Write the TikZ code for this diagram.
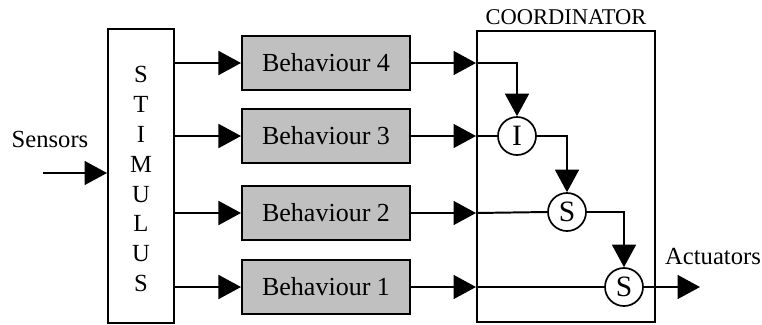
\documentclass[tikz,border=0pt]{standalone}
\usepackage{fontspec}
\setmainfont{Liberation Serif}
\usepackage{tikz}
\usetikzlibrary{arrows.meta, positioning, calc}
\definecolor{behgray}{RGB}{192, 192, 192}

\tikzset{
    flow/.style={line width=1.4pt, -{Triangle[length=16pt, width=17pt]}},
    wire/.style={line width=1.4pt},
    behbox/.style={draw, line width=1.4pt, fill=behgray, minimum width=4.2cm, minimum height=1.35cm, font=\fontsize{18.5}{22}\selectfont},
    arbiter/.style={draw, circle, line width=1.2pt, fill=white, minimum size=0.95cm, inner sep=0pt, font=\fontsize{21}{24}\selectfont},
    lbl/.style={font=\fontsize{17.5}{21}\selectfont}
}

\begin{document}
\begin{tikzpicture}[x=0.025cm, y=-0.025cm]
        \useasboundingbox (0,0) rectangle (762,324);
        % stimulus block
        \node[draw, line width=1.4pt, minimum width=1.65cm, minimum height=7.35cm] (stim) at (141,176) {};
        \node[align=center, font=\fontsize{17.5}{21.3}\selectfont] (stimtext) at (141,179) {S\\T\\I\\M\\U\\L\\U\\S};
        \coordinate (sin) at (43,173);
        \node[lbl] (sensors) at (50,139) {Sensors};
        \draw[flow] (sin) -- (stim.west |- sin);
        % coordinator block
        \node[draw, line width=1.4pt, minimum width=4.45cm, minimum height=7.275cm] (coord) at (566,176.5) {};
        \node[font=\fontsize{16}{19}\selectfont, above=0pt of coord.north] (coordlbl) {COORDINATOR};
        % behaviours
        \foreach \n/\y in {4/63,3/136,2/213,1/287} {
            \node[behbox] (beh\n) at (326,\y) {Behaviour \n};
            \draw[flow] (stim.east |- beh\n) -- (beh\n.west);
            \coordinate (cin\n) at (coord.west |- beh\n);
            \draw[flow] (beh\n.east) -- (cin\n);
        }
        % suppression / inhibition nodes
        \node[arbiter] (inh) at (517,136) {I};
        \node[arbiter] (sup2) at (567,212) {S};
        \node[arbiter] (sup1) at (624,287) {S};
        \draw[flow] (cin4) -| (inh.north);
        \draw[wire] (cin3) -- (inh.west);
        \draw[flow] (inh.east) -| (sup2.north);
        \draw[wire] (cin2) -- (sup2.west);
        \draw[flow] (sup2.east) -| (sup1.north);
        \draw[wire] (cin1) -- (sup1.west);
        % output
        \coordinate (aout) at (700,287);
        \draw[flow] (sup1.east) -- (aout);
        \node[lbl] (actuators) at (713,256) {Actuators};
    \end{tikzpicture}
\end{document}
